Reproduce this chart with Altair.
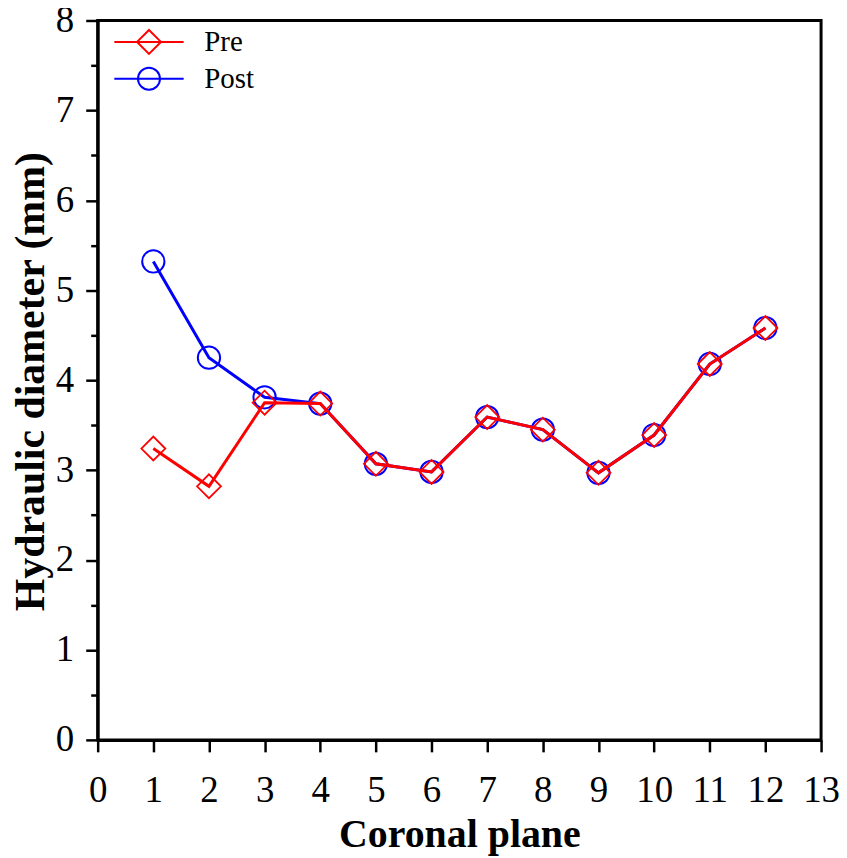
import altair as alt
import pandas as pd

# ---- data ----
planes = list(range(1, 13))
pre = [3.24, 2.82, 3.75, 3.74, 3.07, 2.98, 3.59, 3.45, 2.97, 3.39, 4.18, 4.58]
post = [5.32, 4.25, 3.81, 3.74, 3.07, 2.98, 3.59, 3.45, 2.97, 3.39, 4.18, 4.58]
series_names = ["Pre", "Post"]
series_colors = ["#ff0000", "#0000ff"]
x_ticks = list(range(0, 14))
y_ticks = list(range(0, 9))
y_minor = [0.5, 1.5, 2.5, 3.5, 4.5, 5.5, 6.5, 7.5]

df = pd.DataFrame({
    "plane": planes + planes,
    "value": pre + post,
    "series": ["Pre"] * len(pre) + ["Post"] * len(post),
})

FONT = "Liberation Serif"

# legend symbols: line through marker
pre_sym = "M-2.9,0H2.9M0,-1L1,0L0,1L-1,0Z"
post_sym = "M-2.9,0H2.9M0.92,0A0.92,0.92 0 1,1 -0.92,0A0.92,0.92 0 1,1 0.92,0Z"

x_enc = alt.X(
    "plane:Q",
    scale=alt.Scale(domain=[0, 13], nice=False, zero=False),
    axis=alt.Axis(
        values=x_ticks, title="Coronal plane", tickSize=12, labelPadding=50,
        labelBaseline="alphabetic", labelFlush=False, labelOverlap=False,
        titleX=363, titleY=107, titleBaseline="alphabetic", titleAlign="center",
        titleFontSize=40,
    ),
)
y_scale = alt.Scale(domain=[0, 8], nice=False, zero=False)
y_major = alt.Y(
    "value:Q", scale=y_scale,
    axis=alt.Axis(
        values=y_ticks, orient="left", title="Hydraulic diameter (mm)",
        tickSize=12, labelPadding=12, labelFlush=False, labelOverlap=False,
        titleX=-54, titleY=362, titleAngle=270, titleBaseline="alphabetic",
        titleAlign="center", titleFontSize=42,
    ),
)
y_plain = alt.Y("value:Q", scale=y_scale, axis=None)
y_minor_enc = alt.Y(
    "value:Q", scale=y_scale,
    axis=alt.Axis(values=y_minor, orient="left", tickSize=7, labels=False,
                  domain=False, title=""),
)
color_scale = alt.Scale(domain=series_names, range=series_colors)
color_plain = alt.Color("series:N", scale=color_scale)

base = alt.Chart(df)

leg = alt.Legend(
    title="", orient="none", legendX=37, legendY=7, symbolSize=576,
    symbolStrokeWidth=2, symbolOpacity=1, labelOffset=41, rowPadding=5, padding=0,
    labelFont=FONT, labelFontSize=29, labelColor="black",
)
legend_layer = base.mark_point(filled=False, opacity=0).encode(
    x=x_enc, y=y_plain,
    color=alt.Color("series:N", scale=color_scale, legend=leg),
    shape=alt.Shape("series:N", scale=alt.Scale(domain=series_names, range=[pre_sym, post_sym]), legend=leg),
)

post_line = base.transform_filter("datum.series == 'Post'").mark_line(strokeWidth=3).encode(
    x=x_enc, y=y_major, color=color_plain)
post_pts = base.transform_filter("datum.series == 'Post'").mark_point(
    shape="circle", size=500, filled=False, strokeWidth=2, opacity=1).encode(
    x=x_enc, y=y_plain, color=color_plain)
pre_line = base.transform_filter("datum.series == 'Pre'").mark_line(strokeWidth=3).encode(
    x=x_enc, y=y_plain, color=color_plain)
pre_pts = base.transform_filter("datum.series == 'Pre'").mark_point(
    shape="diamond", size=576, filled=False, strokeWidth=1.8, opacity=1).encode(
    x=x_enc, y=y_plain, color=color_plain)

minor = base.mark_point(opacity=0).encode(x=x_enc, y=y_minor_enc)

chart = alt.layer(
    legend_layer, post_line, post_pts, pre_line, pre_pts, minor
).resolve_scale(y="independent").properties(
    width=726, height=722,
    padding={"left": 90, "top": 11, "right": 18, "bottom": 116},
    autosize=alt.AutoSizeParams(type="none"),
).configure_view(stroke="black", strokeWidth=3).configure_axis(
    domainColor="black", domainWidth=3, tickColor="black", tickWidth=2.5,
    labelFont=FONT, labelFontSize=37, labelColor="black",
    titleFont=FONT, titleFontWeight="bold", titleColor="black", grid=False,
)

chart.save("out.html", embed_options={"renderer": "svg", "actions": False})
